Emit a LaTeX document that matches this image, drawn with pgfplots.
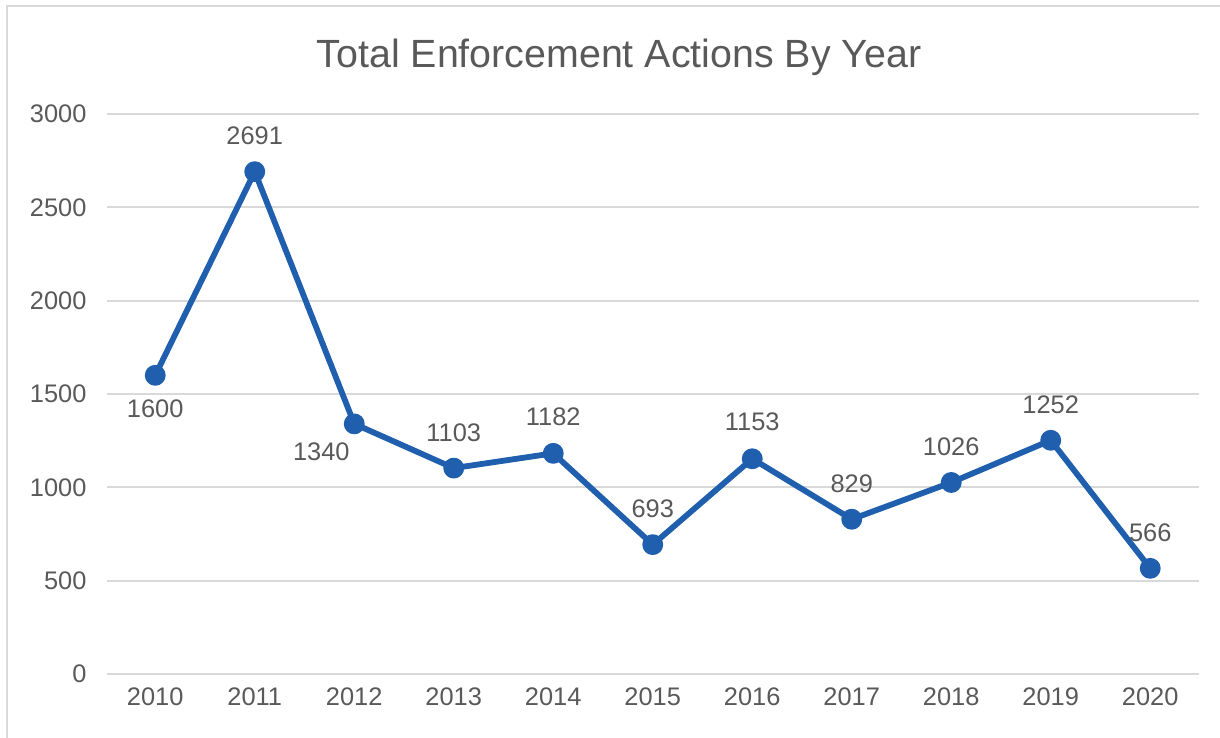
\documentclass[border=0pt]{standalone}
\usepackage{fontspec}
\setmainfont{Liberation Sans}
\usepackage{pgfplots}
\usepackage{pgfplotstable}
\pgfplotsset{compat=1.18}
\definecolor{lineblue}{RGB}{31,95,173}
\definecolor{txtgray}{RGB}{89,89,89}
\definecolor{gridgray}{RGB}{217,217,217}
\definecolor{framegray}{RGB}{217,217,217}
\pgfplotstableread{
x y dx dy
2010 1600 0 -34
2011 2691 0 36
2012 1340 -33 -28
2013 1103 0 35
2014 1182 0 37
2015 693 0 36
2016 1153 0 37
2017 829 0 36
2018 1026 0 36
2019 1252 0 36
2020 566 0 36
}\datatable
\begin{document}
\begin{tikzpicture}[x=1bp,y=1bp]
\useasboundingbox (0,0) rectangle (1220,738);
\draw[framegray, line width=2bp] (7,-2) -- (7,732) -- (1222,732);
\node[txtgray, font=\fontsize{39.5}{46}\selectfont, anchor=base] at (619,670) {Total Enforcement Actions By Year};
\begin{axis}[
  at={(107bp,64bp)}, anchor=south west,
  width=1092bp, height=560bp, scale only axis,
  xmin=2009.515, xmax=2020.49,
  ymin=0, ymax=3000,
  xtick={2010,...,2020},
  ytick={0,500,...,3000},
  xticklabel style={/pgf/number format/1000 sep={}},
  yticklabel style={/pgf/number format/1000 sep={}},
  /pgf/number format/assume math mode=true,
  axis line style={draw=none},
  major tick length=0pt,
  ymajorgrids,
  grid style={gridgray, line width=2bp},
  tick label style={txtgray, font=\fontsize{25.5}{30}\selectfont},
  xticklabel style={yshift=-10bp},
  yticklabel style={xshift=-17bp},
  clip=false,
]
\addplot[lineblue, line width=5.8bp, line join=round, mark=*, mark size=7.5bp,
  mark options={fill=lineblue, draw=none},
  visualization depends on={\thisrow{dx}\as\dx},
  visualization depends on={\thisrow{dy}\as\dy},
  nodes near coords,
  point meta=explicit,
  every node near coord/.append style={anchor=center, txtgray, font=\fontsize{25.5}{30}\selectfont, xshift=\dx, yshift=\dy, /pgf/number format/1000 sep={}, /pgf/number format/assume math mode=true},
] table[x=x, y=y, meta=y] {\datatable};
\end{axis}
\end{tikzpicture}
\end{document}
